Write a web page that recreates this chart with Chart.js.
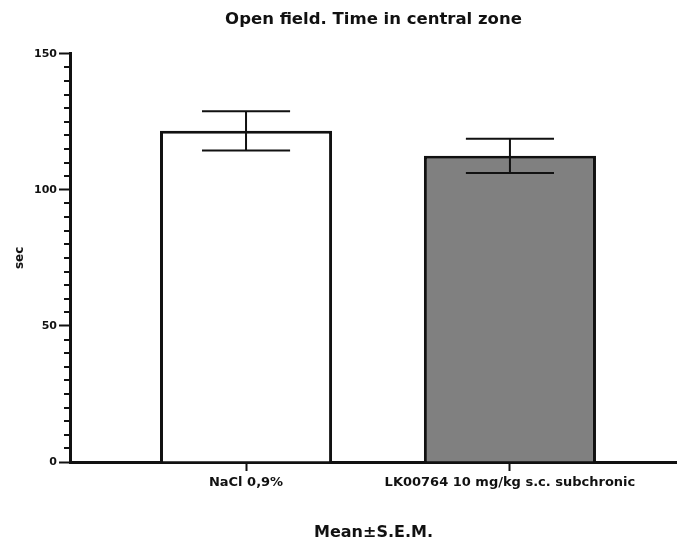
<!DOCTYPE html>
<html>
<head>
<meta charset="utf-8">
<script src="https://cdn.jsdelivr.net/npm/chart.js@4.4.1/dist/chart.umd.min.js"></script>
<style>
  html, body { margin: 0; padding: 0; background: #fff; }
  #wrap { width: 677px; height: 544px; position: relative; }
</style>
</head>
<body>
<div id="wrap"><canvas id="chart"></canvas></div>
<script>
// Data
const categories = ['NaCl 0,9%', 'LK00764 10 mg/kg s.c. subchronic'];
const means = [121.7, 112.5];
const sems = [7.2, 6.3];
const yTicks = [0, 50, 100, 150];
const yMinorStep = 5;

const FONT = '"DejaVu Sans", "Liberation Sans", Arial, sans-serif';

// minor ticks on the y axis (GraphPad style)
const minorTicks = {
    id: 'minorTicks',
    afterDraw(chart) {
        const y = chart.scales.y;
        const ctx = chart.ctx;
        const x0 = chart.chartArea.left;
        ctx.save();
        ctx.strokeStyle = '#111';
        ctx.lineWidth = 2;
        for (let v = y.min; v <= y.max; v += yMinorStep) {
            if (yTicks.includes(v)) continue;
            const py = Math.round(y.getPixelForValue(v));
            ctx.beginPath();
            ctx.moveTo(x0 - 6, py);
            ctx.lineTo(x0, py);
            ctx.stroke();
        }
        ctx.restore();
    }
};

// mean ± SEM error bars
const errorBars = {
    id: 'errorBars',
    afterDatasetsDraw(chart) {
        const meta = chart.getDatasetMeta(0);
        const xs = chart.scales.x, ys = chart.scales.y;
        const ctx = chart.ctx;
        ctx.save();
        ctx.strokeStyle = '#111';
        ctx.lineWidth = 2;
        means.forEach((m, i) => {
            const bar = meta.data[i];
            const cx = xs.getPixelForValue(i);
            const half = bar.width * 0.256;
            const top = ys.getPixelForValue(m + sems[i]);
            const bot = ys.getPixelForValue(m - sems[i]);
            ctx.beginPath();
            ctx.moveTo(cx, top); ctx.lineTo(cx, bot);
            ctx.moveTo(cx - half, top); ctx.lineTo(cx + half, top);
            ctx.moveTo(cx - half, bot); ctx.lineTo(cx + half, bot);
            ctx.stroke();
        });
        ctx.restore();
    }
};

const ctx = document.getElementById('chart').getContext('2d');
new Chart(ctx, {
    type: 'bar',
    data: {
        datasets: [{
            data: means.map((m, i) => ({ x: i, y: m })),
            backgroundColor: ['#ffffff', '#808080'],
            borderColor: '#111',
            borderWidth: 3,
            borderSkipped: 'bottom',
            categoryPercentage: 1,
            barPercentage: 0.652
        }]
    },
    options: {
        responsive: true,
        maintainAspectRatio: false,
        animation: false,
        layout: { padding: 0 },
        plugins: {
            legend: { display: false },
            tooltip: { enabled: false },
            title: {
                display: true,
                text: 'Open field. Time in central zone',
                fullSize: false,
                color: '#111',
                font: { family: FONT, size: 16.5, weight: 'bold' },
                padding: { top: 10, bottom: 24 }
            }
        },
        scales: {
            x: {
                type: 'linear',
                min: -0.667,
                max: 1.633,
                offset: false,
                afterBuildTicks(scale) {
                    scale.ticks = categories.map((c, i) => ({ value: i }));
                },
                afterFit(scale) { scale.height = 82; },
                ticks: {
                    autoSkip: false,
                    maxRotation: 0,
                    padding: 4,
                    color: '#111',
                    font: { family: FONT, size: 13, weight: 'bold' },
                    callback: (v) => categories[v]
                },
                grid: {
                    offset: false,
                    drawOnChartArea: false,
                    tickLength: 9,
                    tickWidth: 2,
                    tickColor: '#111'
                },
                border: { color: '#111', width: 3 },
                title: {
                    display: true,
                    text: 'Mean±S.E.M.',
                    color: '#111',
                    font: { family: FONT, size: 16, weight: 'bold' },
                    padding: { top: 0, bottom: 2 }
                }
            },
            y: {
                min: 0,
                max: 150,
                afterBuildTicks(scale) {
                    scale.ticks = yTicks.map(v => ({ value: v }));
                },
                afterFit(scale) { scale.width = 70; },
                ticks: {
                    padding: 2,
                    color: '#111',
                    font: { family: FONT, size: 11, weight: 'bold' }
                },
                grid: {
                    drawOnChartArea: false,
                    tickLength: 11,
                    tickWidth: 2,
                    tickColor: '#111'
                },
                border: { color: '#111', width: 3 },
                title: {
                    display: true,
                    text: 'sec',
                    color: '#111',
                    font: { family: FONT, size: 12, weight: 'bold' },
                    padding: { top: 13, bottom: 0 }
                }
            }
        }
    },
    plugins: [minorTicks, errorBars]
});
</script>
</body>
</html>
